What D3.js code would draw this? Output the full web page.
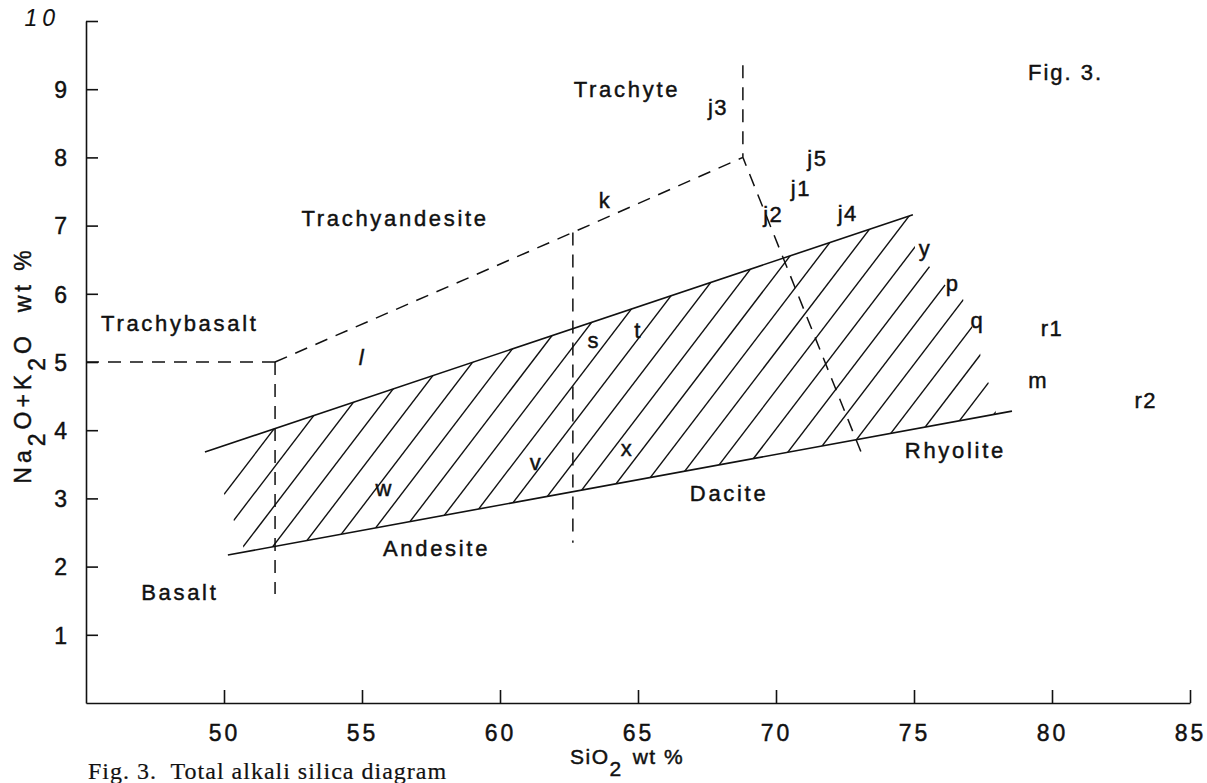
<!DOCTYPE html>
<html>
<head>
<meta charset="utf-8">
<script src="https://cdn.jsdelivr.net/npm/d3@7"></script>
<style>
  body { margin: 0; background: #fff; }
  svg text { font-family: "Liberation Sans", Arial, sans-serif; fill: #111; stroke: #111; stroke-width: 0.45px; }
</style>
</head>
<body>
<div id="tas-chart"></div>
<script>
// Total alkali silica chart

// axis ticks
const xTicks = [50, 55, 60, 65, 70, 75, 80, 85];
const yTicks = [1, 2, 3, 4, 5, 6, 7, 8, 9, 10];

// samples (label letters placed at their SiO2 / alkali value)
const sampleNames  = ["l", "k", "j3", "j5", "j1", "j2", "j4", "s", "t", "y", "p", "q", "r1", "m", "r2", "w", "v", "x"];
const sampleSiO2   = [55.0, 63.8, 67.9, 71.5, 70.9, 69.9, 72.6, 63.4, 65.0, 75.4, 76.4, 77.3, 80.0, 79.5, 83.4, 55.8, 61.3, 64.6];
const sampleAlkali = [5.07, 7.38, 8.74, 7.99, 7.55, 7.17, 7.18, 5.32, 5.47, 6.67, 6.16, 5.62, 5.50, 4.74, 4.44, 3.15, 3.53, 3.74];

// rock field names
const fieldNames  = ["Trachybasalt", "Basalt", "Andesite", "Trachyandesite", "Trachyte", "Dacite", "Rhyolite"];
const fieldSiO2   = [48.4, 48.4, 57.7, 56.2, 64.6, 68.3, 76.5];
const fieldAlkali = [5.57, 1.63, 2.27, 7.11, 9.0, 3.08, 3.71];

// dashed field boundaries
const dashedLines = [
  [[45, 5], [51.85, 5]],
  [[51.85, 5], [51.85, 1.6]],
  [[51.85, 5], [62.64, 6.9], [68.8, 8]],
  [[62.64, 6.9], [62.64, 2.35]],
  [[68.8, 9.35], [68.8, 8], [73.15, 3.61]]
];

// solid lines bounding the hatched band
const upperLine = [[49.31, 3.68], [74.96, 7.16]];
const lowerLine = [[50.14, 2.17], [78.55, 4.28]];

// outline of the hatched area
const hatchOutline = [
  [50.76, 2.22], [49.86, 3.23], [51.2, 3.94], [74.96, 7.16], [75.04, 6.64],
  [75.58, 6.39], [76.12, 6.13], [76.74, 5.97], [77.03, 5.59], [77.32, 5.29],
  [77.5, 4.9], [77.83, 4.56], [77.97, 4.24]
];

(function () {
  var draw_chart = function () {
    const W = 1207, H = 783;

    const svg = d3.select("#tas-chart")
      .append("svg")
      .attr("width", W)
      .attr("height", H);

    const xScale = d3.scaleLinear().domain([45, 85]).range([86, 1190]);
    const yScale = d3.scaleLinear().domain([0, 10]).range([703, 21]);

    const line = d3.line().x(d => xScale(d[0])).y(d => yScale(d[1]));

    // axes
    const xAxis = d3.axisBottom(xScale).tickValues(xTicks).tickSize(-13).tickSizeOuter(0).tickPadding(0);
    const yAxis = d3.axisLeft(yScale).tickValues(yTicks).tickSize(-12).tickSizeOuter(0).tickPadding(0);

    const gx = svg.append("g")
      .attr("transform", "translate(0," + yScale(0) + ")")
      .call(xAxis);
    const gy = svg.append("g")
      .attr("transform", "translate(" + xScale(45) + ",0)")
      .call(yAxis);

    [gx, gy].forEach(g => {
      g.select(".domain").attr("stroke", "#111").attr("stroke-width", 1.6);
      g.selectAll(".tick line").attr("stroke", "#111").attr("stroke-width", 1.6);
      g.selectAll(".tick text")
        .attr("fill", "#111")
        .attr("font-size", "23px")
        .attr("letter-spacing", "3px")
        .attr("font-family", null);
    });

    gx.selectAll(".tick text").attr("y", 38).attr("dy", null);
    gy.selectAll(".tick text")
      .attr("x", -16)
      .attr("dy", "0.36em")
      .filter(d => d === 10)
      .attr("x", -26)
      .attr("dy", "0.2em")
      .style("font-style", "italic")
      .style("font-weight", "300")
      .attr("letter-spacing", "5px")
      .style("stroke-width", "0.1px");

    // axis titles
    const xt = svg.append("text")
      .attr("x", 570)
      .attr("y", 764)
      .attr("font-size", "21px")
      .attr("letter-spacing", "1.5px");
    xt.append("tspan").text("SiO");
    xt.append("tspan").attr("dy", 12).text("2");
    xt.append("tspan").attr("dy", -12).attr("dx", 10).text("wt %");

    const yt = svg.append("text")
      .attr("transform", "translate(31,365) rotate(-90)")
      .attr("text-anchor", "middle")
      .attr("font-size", "23px")
      .attr("letter-spacing", "4px");
    yt.append("tspan").text("Na");
    yt.append("tspan").attr("dy", 14).text("2");
    yt.append("tspan").attr("dy", -14).text("O+K");
    yt.append("tspan").attr("dy", 14).text("2");
    yt.append("tspan").attr("dy", -14).text("O");
    yt.append("tspan").attr("dx", 20).text("wt %");

    // hatched band
    svg.append("clipPath")
      .attr("id", "hatch-clip")
      .append("path")
      .attr("d", line(hatchOutline) + "Z");

    const hatchSlope = 0.53, hatchStep = 1.07, hatchAnchor = 61.35;
    const hatchStarts = d3.range(hatchAnchor - 17 * hatchStep, hatchAnchor + 9 * hatchStep, hatchStep);

    svg.append("g")
      .attr("clip-path", "url(#hatch-clip)")
      .selectAll("path")
      .data(hatchStarts)
      .enter()
      .append("path")
      .attr("d", c => line([[c, 0], [c + 10 / hatchSlope, 10]]))
      .attr("stroke", "#111")
      .attr("stroke-width", 1.4)
      .attr("fill", "none");

    svg.selectAll(".solid")
      .data([upperLine, lowerLine])
      .enter()
      .append("path")
      .attr("class", "solid")
      .attr("d", line)
      .attr("stroke", "#111")
      .attr("stroke-width", 1.6)
      .attr("fill", "none");

    svg.selectAll(".dashed")
      .data(dashedLines)
      .enter()
      .append("path")
      .attr("class", "dashed")
      .attr("d", line)
      .attr("stroke", "#111")
      .attr("stroke-width", 1.5)
      .attr("stroke-dasharray", "13,9")
      .attr("fill", "none");

    // rock field labels
    svg.selectAll(".field")
      .data(fieldNames)
      .enter()
      .append("text")
      .attr("class", "field")
      .attr("x", (d, i) => xScale(fieldSiO2[i]))
      .attr("y", (d, i) => yScale(fieldAlkali[i]))
      .attr("dy", "0.36em")
      .attr("text-anchor", "middle")
      .attr("font-size", "22px")
      .attr("letter-spacing", "2.7px")
      .text(d => d);

    // sample labels
    svg.selectAll(".sample")
      .data(sampleNames)
      .enter()
      .append("text")
      .attr("class", "sample")
      .attr("x", (d, i) => xScale(sampleSiO2[i]))
      .attr("y", (d, i) => yScale(sampleAlkali[i]))
      .attr("dy", "0.36em")
      .attr("text-anchor", "middle")
      .attr("font-size", "22px")
      .attr("letter-spacing", "1.5px")
      .style("font-style", d => d === "l" ? "italic" : null)
      .text(d => d);

    svg.append("text")
      .attr("x", 1028)
      .attr("y", 72)
      .attr("dy", "0.36em")
      .attr("font-size", "22px")
      .attr("letter-spacing", "2px")
      .text("Fig. 3.");

    svg.append("text")
      .attr("x", 88)
      .attr("y", 779)
      .style("font-family", "\"Liberation Serif\", \"Times New Roman\", serif")
      .attr("font-size", "24px")
      .attr("letter-spacing", "1px")
      .attr("xml:space", "preserve")
      .style("stroke-width", "0.2px")
      .text("Fig. 3.  Total alkali silica diagram");
  };

  document.addEventListener("DOMContentLoaded", function () {
    draw_chart();
  });
})();
</script>
</body>
</html>
